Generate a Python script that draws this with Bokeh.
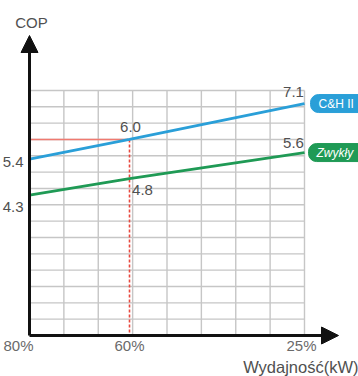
from bokeh.plotting import figure
from bokeh.models import Range1d, Arrow, NormalHead
from bokeh.core.properties import value
from bokeh.embed import file_html
from bokeh.resources import INLINE
import numpy as np

# ---- data ----
capacity_pct = [80, 60, 25]
tick_labels = ["80%", "60%", "25%"]
cop_ch = [5.4, 6.0, 7.1]
cop_std = [4.3, 4.8, 5.6]
series_names = ["C&H II", "Zwykły"]
highlight_pct = 60

W, H = 358, 376
px_x = 5.0        # px per %
px_y = 32.67      # px per COP unit
p = figure(width=W, height=H, output_backend="svg", toolbar_location=None,
           x_range=Range1d(80 + 29 / px_x, 80 - (W - 29) / px_x),
           y_range=Range1d(-(H - 335) / px_y, 335 / px_y),
           min_border=0, outline_line_color=None, x_axis_type=None, y_axis_type=None)
p.grid.visible = False
p.background_fill_color = "white"

FONT = value("Liberation Sans")
TXT = "#505050"

def dx(px):
    # shift right by px pixels (x axis is reversed)
    return -px / px_x

def dy(px):
    # shift down by px pixels
    return -px / px_y

# grid
x0, x1 = capacity_pct[0], capacity_pct[-1]
gx = np.linspace(x0, x1, 9)
gy = np.arange(0.5, 7.51, 0.5)
p.segment(x0=gx, y0=[0]*len(gx), x1=gx, y1=[7.5]*len(gx), line_color="#c6c6c6", line_width=1.4)
p.segment(x0=[x0]*len(gy), y0=gy, x1=[x1]*len(gy), y1=gy, line_color="#c6c6c6", line_width=1.4)

# red guides
p.segment(x0=[x0], y0=[cop_ch[1]], x1=[highlight_pct], y1=[cop_ch[1]], line_color="#f07a70", line_width=1.6)
p.segment(x0=[highlight_pct], y0=[cop_ch[1]], x1=[highlight_pct], y1=[0], line_color="#e8483e",
          line_width=1.6, line_dash="3 2")

# series lines
p.line(capacity_pct, cop_ch, line_color="#2a9fd8", line_width=2.8)
p.line(capacity_pct, cop_std, line_color="#1f9a55", line_width=2.8)

# axes with arrows
y_top = (335 - 35) / px_y
x_end = x0 - (338 - 29) / px_x
p.add_layout(Arrow(end=NormalHead(size=17, fill_color="#111111", line_color="#111111"),
                   x_start=x0, y_start=0, x_end=x0, y_end=y_top, line_width=3, line_color="#111111"))
p.add_layout(Arrow(end=NormalHead(size=17, fill_color="#111111", line_color="#111111"),
                   x_start=x0, y_start=0, x_end=x_end, y_end=0, line_width=3, line_color="#111111"))

# axis tick labels
p.text(x=[capacity_pct[0] + dx(-11), capacity_pct[1], capacity_pct[2] + dx(-3)], y=[dy(10)]*3,
       text=tick_labels, text_font=FONT, text_font_size="15px",
       text_color="#6a6a6a", text_align="center", text_baseline="middle")
p.text(x=[x0 + dx(-6)]*2, y=[cop_ch[0] + dy(2.5), cop_std[0] + dy(12)],
       text=[f"{cop_ch[0]:.1f}", f"{cop_std[0]:.1f}"],
       text_font=FONT, text_font_size="15px", text_color=TXT, text_align="right", text_baseline="middle")
p.text(x=[x0 + dx(2)], y=[(335 - 22) / px_y], text=["COP"], text_font=FONT, text_font_size="15px",
       text_color=TXT, text_align="center", text_baseline="middle")
p.text(x=[x0 - (358 - 29) / px_x], y=[(335 - 366) / px_y], text=["Wydajność(kW)"], text_font=FONT,
       text_font_size="16.5px", text_color=TXT, text_align="right", text_baseline="middle")

# point labels
p.text(x=[highlight_pct + dx(1)], y=[cop_ch[1] + dy(-12)], text=[f"{cop_ch[1]:.1f}"], text_font=FONT,
       text_font_size="15px", text_color=TXT, text_align="center", text_baseline="middle")
p.text(x=[highlight_pct + dx(13)], y=[cop_std[1] + dy(11)], text=[f"{cop_std[1]:.1f}"], text_font=FONT,
       text_font_size="15px", text_color=TXT, text_align="center", text_baseline="middle")
p.text(x=[x1 + dx(-11), x1 + dx(-11)], y=[cop_ch[2] + dy(-12), cop_std[2] + dy(-10)],
       text=[f"{cop_ch[2]:.1f}", f"{cop_std[2]:.1f}"], text_font=FONT,
       text_font_size="15px", text_color=TXT, text_align="center", text_baseline="middle")

# legend pills
for name, yv, col, italic, left in [(series_names[0], cop_ch[2], "#2a9fd8", "normal", 310),
                                    (series_names[1], cop_std[2], "#1f9a55", "italic", 308)]:
    lx = x0 - (left - 29) / px_x
    p.rect(x=[lx + dx(30)], y=[yv], width=60 / px_x, height=18 / px_y,
           fill_color=col, line_color=col, border_radius=8)
    p.text(x=[lx + dx(8)], y=[yv], text=[name], text_font=FONT, text_font_size="12px",
           text_font_style=italic, text_color="white", text_align="left", text_baseline="middle")

open("out.html", "w").write(file_html(p, INLINE))
